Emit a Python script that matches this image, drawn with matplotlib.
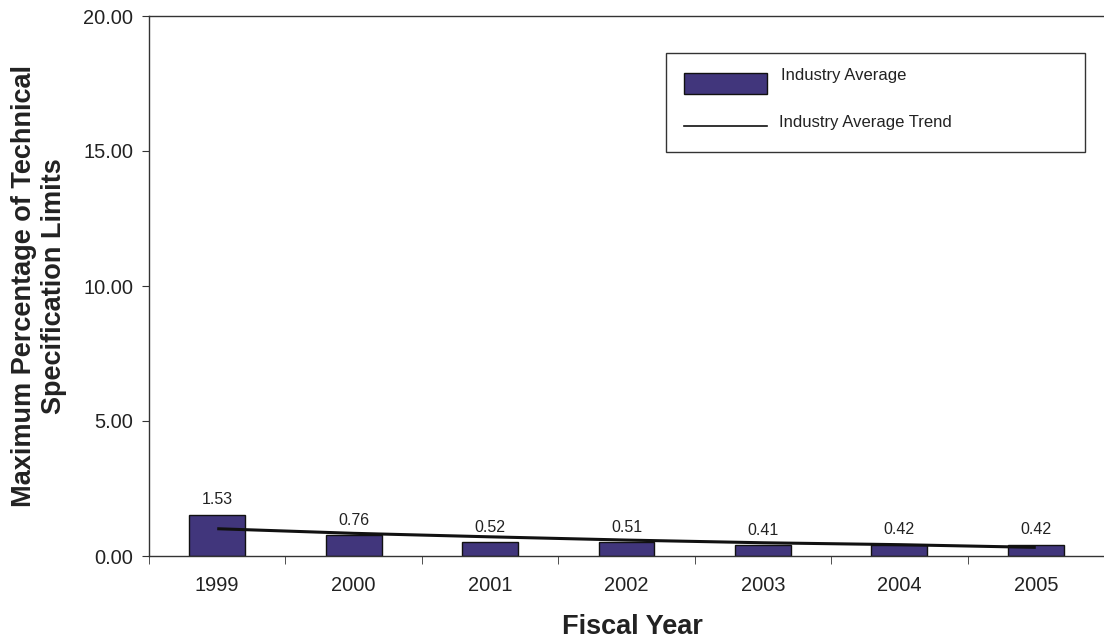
import matplotlib
matplotlib.use("Agg")
import matplotlib.pyplot as plt
from matplotlib.patches import Rectangle
from matplotlib.lines import Line2D
import numpy as np

years = ["1999", "2000", "2001", "2002", "2003", "2004", "2005"]
industry_avg = [1.53, 0.76, 0.52, 0.51, 0.41, 0.42, 0.42]
trend = [1.01, 0.84, 0.71, 0.59, 0.49, 0.42, 0.32]
yticks = [0, 5, 10, 15, 20]
legend_labels = ["Industry Average", "Industry Average Trend"]

plt.rcParams['font.family'] = ['Liberation Sans', 'DejaVu Sans']

W, H = 1104, 642
fig = plt.figure(figsize=(W / 100, H / 100), dpi=100)
ax = fig.add_axes([149 / W, 1 - 556 / H, 1 - 149 / W, 540 / H])

def fx(px):
    return px / W

def fy(py):
    return 1 - py / H

x = np.arange(len(years))
bar_color = '#41367C'
text_color = '#222222'
ax.bar(x, industry_avg, width=0.41, color=bar_color, edgecolor='#111111', linewidth=1.0, zorder=2)
ax.plot(x, trend, color='#111111', linewidth=2.2, zorder=3, solid_capstyle='butt')

for xi, v in zip(x, industry_avg):
    ax.annotate(f"{v:.2f}", (xi, v), xytext=(0, 7.5), textcoords='offset points',
                ha='center', va='baseline', fontsize=11.5, color=text_color)

ax.set_xlim(-0.5, 6.44)
ax.set_ylim(0, 20)
ax.set_yticks(yticks)
ax.set_yticklabels([f"{t:.2f}" for t in yticks], fontsize=14.4, color=text_color)
ax.set_xticks(x)
ax.set_xticklabels(years, fontsize=14.4, color=text_color)
ax.set_xticks(np.arange(-0.5, 7, 1.0), minor=True)
ax.tick_params(axis='x', which='major', length=0, pad=14.5)
ax.tick_params(axis='x', which='minor', length=6, direction='out', color='#333333')
ax.tick_params(axis='y', length=5, direction='out', color='#333333', pad=6.5)

ax.spines['right'].set_visible(False)
for s in ['left', 'bottom', 'top']:
    ax.spines[s].set_color('#333333')
    ax.spines[s].set_linewidth(1.0)

fig.text(fx(632), fy(634), "Fiscal Year", fontsize=19.5, fontweight='bold',
         color=text_color, ha='center', va='baseline')
fig.text(fx(39), fy(286), "Maximum Percentage of Technical\nSpecification Limits",
         fontsize=19.5, fontweight='bold', color=text_color, rotation=90,
         ha='center', va='center', multialignment='center', linespacing=1.2)

# Legend box
fig.add_artist(Rectangle((fx(666), fy(152)), fx(1085) - fx(666), fy(53) - fy(152),
                         transform=fig.transFigure, facecolor='white',
                         edgecolor='#333333', linewidth=1.0, zorder=5))
fig.add_artist(Rectangle((fx(684), fy(94)), fx(767) - fx(684), fy(73) - fy(94),
                         transform=fig.transFigure, facecolor=bar_color,
                         edgecolor='#111111', linewidth=1.0, zorder=6))
fig.add_artist(Line2D([fx(684), fx(767)], [fy(126), fy(126)], transform=fig.transFigure,
                      color='#111111', linewidth=1.2, zorder=6))
fig.text(fx(781), fy(80), legend_labels[0], fontsize=12, color=text_color,
         ha='left', va='baseline', zorder=7)
fig.text(fx(779), fy(127), legend_labels[1], fontsize=12, color=text_color,
         ha='left', va='baseline', zorder=7)

fig.savefig("out.png", dpi=100)
